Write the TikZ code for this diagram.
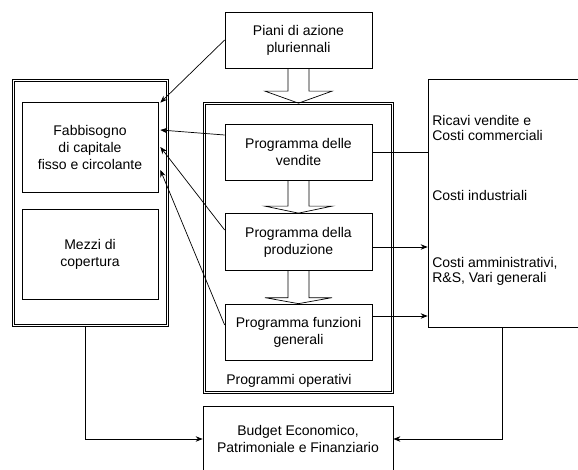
\documentclass[tikz,border=0pt]{standalone}
\usepackage{fontspec}
\setmainfont{Liberation Sans}
\usetikzlibrary{arrows.meta,calc}

% hollow block arrow: source anchor, target anchor, head length
\newcommand{\bigarrow}[3]{%
  \draw ($(#1)+(-10.5,0)$) -- ($(#2)+(-10.5,#3)$) -- ($(#2)+(-33.5,#3)$) -- (#2)
    -- ($(#2)+(33.5,#3)$) -- ($(#2)+(10.5,#3)$) -- ($(#1)+(10.5,0)$);}

\begin{document}
\begin{tikzpicture}[x=1pt,y=1pt,line width=0.7pt,>={Stealth[length=7pt,width=5.5pt]},
    box/.style={draw,align=center,inner sep=0pt,font=\fontsize{14}{17}\selectfont},
    outer/.style={draw,double,double distance=1.6pt,inner sep=0pt},
    voce/.style={anchor=west,align=left,inner sep=0pt,font=\fontsize{14}{15}\selectfont}]
\useasboundingbox (0,0) rectangle (578,-470);
\clip (0,0) rectangle (578,-470);

\node[outer,minimum width=154,minimum height=245] (fonti) at (90.5,-203) {};
\node[box,minimum width=136,minimum height=90] (fabb) at (90,-147) {Fabbisogno\\di capitale\\fisso e circolante};
\node[box,minimum width=136,minimum height=90] (mezzi) at (90,-254) {Mezzi di\\copertura};

\node[box,minimum width=147,minimum height=56] (piani) at (298.5,-40) {Piani di azione\\pluriennali};
\node[outer,minimum width=188,minimum height=289] (progop) at (298.5,-248) {};
\node[box,minimum width=147,minimum height=56] (vendite) at (298.5,-152) {Programma delle\\vendite};
\node[box,minimum width=147,minimum height=57] (produzione) at (298.5,-242) {Programma della\\produzione};
\node[box,minimum width=147,minimum height=56] (funzioni) at (298.5,-332) {Programma funzioni\\generali};
\node[voce] (progoplabel) at (226,-381) {Programmi operativi};

\node[draw,minimum width=160,minimum height=248,inner sep=0pt] (costi) at (508,-203) {};
\node[voce] (ricavi) at (432,-128) {Ricavi vendite e\\Costi commerciali};
\node[voce] (industriali) at (432,-195) {Costi industriali};
\node[voce] (amministrativi) at (432,-271) {Costi amministrativi,\\R\&S, Vari generali};

\node[box,minimum width=190,minimum height=66] (budget) at (298,-439) {Budget Economico,\\Patrimoniale e Finanziario};

\bigarrow{piani.south}{progop.north}{12}
\bigarrow{vendite.south}{produzione.north}{7}
\bigarrow{produzione.south}{funzioni.north}{6}

\draw[->] (piani.west) -- ($(fabb.north east)+(2,-1)$);
\draw[->] ($(vendite.west)+(0,17)$) -- ($(fabb.east)+(2,17)$);
\draw[->] ($(produzione.west)+(0,12)$) -- ($(fabb.east)+(2,0)$);
\draw[->] ($(funzioni.west)+(0,7)$) -- ($(fabb.east)+(2,-23)$);

\draw (vendite.east) -- (vendite.east -| costi.west);
\draw[->] ($(produzione.east)+(0,-5)$) -- ($(produzione.east -| costi.west)+(0,-5)$);
\draw[->] ($(funzioni.east)+(0,16)$) -- ($(funzioni.east -| costi.west)+(0,16)$);

\draw[->] ($(fonti.south)+(-5,0)$) |- (budget.west);
\draw[->] ($(costi.south)+(-6,0)$) |- (budget.east);
\end{tikzpicture}
\end{document}
